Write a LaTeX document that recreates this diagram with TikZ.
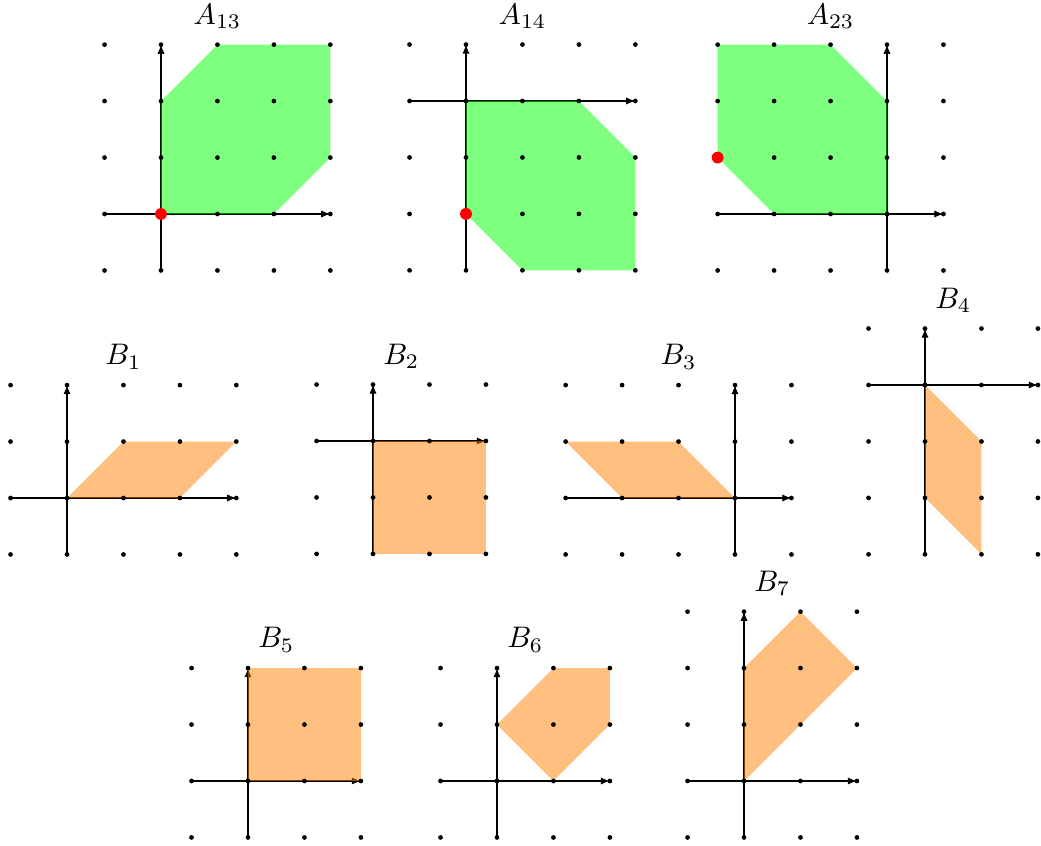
\documentclass[tikz,border=0pt]{standalone}
\usepackage{graphicx}
\usetikzlibrary{arrows.meta}
\tikzset{
  axisline/.style={line width=0.55pt, -{Latex[length=4.6pt,width=3.6pt]}},
  gdot/.style={fill=black},
  lab/.style={anchor=base, inner sep=0pt},
  greenfill/.style={fill=green, fill opacity=0.5},
  orangefill/.style={fill=orange, fill opacity=0.5},
  reddot/.style={fill=red}
}
% #1 xmin #2 xmax #3 ymin #4 ymax #5 fill style #6 polygon #7 label #8 name
\newcommand{\latpanel}[8]{%
  \draw[axisline] (#1,0) -- (#2,0);
  \draw[axisline] (0,#3) -- (0,#4);
  \fill[#5] #6;
  \foreach \i in {#1,...,#2}{\foreach \j in {#3,...,#4}{\fill[gdot] (\i,\j) circle (1.2pt);}}
  \node[lab] (#8) at ({(#1+#2)/2},{#4+0.36}) {\scalebox{1.5}{$#7$}};
}
\begin{document}
\begin{tikzpicture}[x=1cm,y=1cm]
\useasboundingbox (0,0) rectangle (18.441,-14.969);
% A13
\begin{scope}[shift={(2.852,-3.791)}]
  \latpanel{-1}{3}{-1}{3}{greenfill}{(0,0)--(0,2)--(1,3)--(3,3)--(3,1)--(2,0)--cycle}{A_{13}}{a13}
  \fill[reddot] (0,0) circle (0.105);
\end{scope}
% A14
\begin{scope}[shift={(8.255,-1.789)}]
  \latpanel{-1}{3}{-3}{1}{greenfill}{(0,0)--(0,-2)--(1,-3)--(3,-3)--(3,-1)--(2,0)--cycle}{A_{14}}{a14}
  \fill[reddot] (0,-2) circle (0.105);
\end{scope}
% A23
\begin{scope}[shift={(15.713,-3.791)}]
  \latpanel{-3}{1}{-1}{3}{greenfill}{(-3,3)--(-1,3)--(0,2)--(0,0)--(-2,0)--(-3,1)--cycle}{A_{23}}{a23}
  \fill[reddot] (-3,1) circle (0.105);
\end{scope}
% B1
\begin{scope}[shift={(1.187,-8.822)}]
  \latpanel{-1}{3}{-1}{2}{orangefill}{(0,0)--(1,1)--(3,1)--(2,0)--cycle}{B_1}{b1}
\end{scope}
% B2
\begin{scope}[shift={(6.608,-7.812)}]
  \latpanel{-1}{2}{-2}{1}{orangefill}{(0,0)--(2,0)--(2,-2)--(0,-2)--cycle}{B_2}{b2}
\end{scope}
% B3
\begin{scope}[shift={(13.020,-8.822)}]
  \latpanel{-3}{1}{-1}{2}{orangefill}{(-3,1)--(-1,1)--(0,0)--(-2,0)--cycle}{B_3}{b3}
\end{scope}
% B4
\begin{scope}[shift={(16.386,-6.820)}]
  \latpanel{-1}{2}{-3}{1}{orangefill}{(0,0)--(1,-1)--(1,-3)--(0,-2)--cycle}{B_4}{b4}
\end{scope}
% B5
\begin{scope}[shift={(4.393,-13.835)}]
  \latpanel{-1}{2}{-1}{2}{orangefill}{(0,0)--(2,0)--(2,2)--(0,2)--cycle}{B_5}{b5}
\end{scope}
% B6
\begin{scope}[shift={(8.804,-13.835)}]
  \latpanel{-1}{2}{-1}{2}{orangefill}{(0,1)--(1,2)--(2,2)--(2,1)--(1,0)--cycle}{B_6}{b6}
\end{scope}
% B7
\begin{scope}[shift={(13.180,-13.835)}]
  \latpanel{-1}{2}{-1}{3}{orangefill}{(0,0)--(0,2)--(1,3)--(2,2)--cycle}{B_7}{b7}
\end{scope}
\end{tikzpicture}
\end{document}
